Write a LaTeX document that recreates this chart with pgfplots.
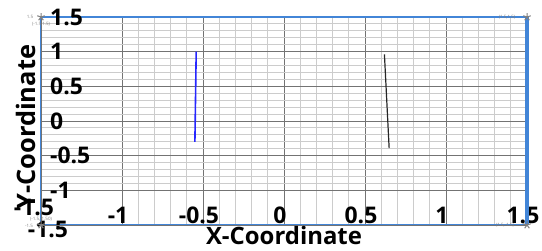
\documentclass[border=0pt]{standalone}
\usepackage{fontspec}
\setmainfont{Open Sans}
\usepackage{pgfplots}
\pgfplotsset{compat=1.18}
\usetikzlibrary{plotmarks}
\definecolor{frameblue}{RGB}{66,133,215}
\begin{document}
\begin{tikzpicture}
\begin{axis}[
  scale only axis, width=486bp, height=208bp,
  xmin=-1.5, xmax=1.5, ymin=-1.5, ymax=1.5,
  xtick={-1,-0.5,0,0.5,1,1.5}, xticklabels={-1,-0.5,0,0.5,1,1.5},
  ytick={-1,-0.5,0,0.5,1,1.5}, yticklabels={-1,-0.5,0,0.5,1,1.5},
  extra x ticks={-1.5}, extra x tick labels={-1.5},
  extra y ticks={-1.5}, extra y tick labels={-1.5},
  minor tick num=4,
  grid=both,
  major grid style={draw=black!55, line width=0.9bp},
  minor grid style={draw=black!20, line width=1.1bp},
  axis line style={draw=frameblue, line width=1.6bp},
  major tick length=0pt, minor tick length=0pt,
  ticklabel style={font=\fontsize{23}{23}\selectfont\bfseries},
  xticklabel style={anchor=base, yshift=1bp, xshift=-4bp},
  yticklabel style={anchor=west, inner xsep=9bp},
  extra x tick style={xticklabel style={anchor=center, xshift=11bp, yshift=-5bp}},
  extra y tick style={yticklabel style={anchor=center, xshift=-7bp, yshift=18bp}},
  xlabel={X-Coordinate},
  xlabel style={font=\fontsize{24}{24}\selectfont\bfseries, at={(axis description cs:0.5,0)}, anchor=base, yshift=-20bp},
  ylabel={Y-Coordinate},
  ylabel style={font=\fontsize{25.5}{25.5}\selectfont\bfseries, at={(axis description cs:0,0.47)}, anchor=base, yshift=5bp},
  clip=false,
]
\addplot[blue!85!white, line width=1.6bp] coordinates {(-0.542,1.0) (-0.55,-0.30)};
\addplot[black!85, line width=1.2bp] coordinates {(0.62,0.96) (0.649,-0.39)};
\addplot[only marks, mark=star, mark size=4bp, draw=gray, line width=1bp] coordinates {(-1.5,1.5) (1.5,1.5) (1.5,-1.5) (-1.5,-1.5)};
\draw[frameblue, line width=4bp] (rel axis cs:1,0) -- (rel axis cs:1,1);
\node[font=\fontsize{4.5}{4.5}\selectfont, text=gray] at (axis cs:-1.5,1.5) [xshift=-11bp] {1.5};
\node[font=\fontsize{4.5}{4.5}\selectfont, text=gray] at (axis cs:-1.5,1.5) [yshift=-7bp] {(-1.5,1.5)};
\node[font=\fontsize{4.5}{4.5}\selectfont, text=gray] at (axis cs:1.5,1.5) [xshift=-20bp] {(1.5,1.5)};
\node[font=\fontsize{4.5}{4.5}\selectfont, text=gray] at (axis cs:1.5,-1.5) [xshift=-22bp] {(1.5,-1.5)};
\node[font=\fontsize{4.5}{4.5}\selectfont, text=gray] at (axis cs:-1.5,-1.5) [yshift=6bp] {(-1.5,-1.50)};
\node[font=\fontsize{4.5}{4.5}\selectfont, text=gray] at (axis cs:-1.5,-1.5) [xshift=-12bp, yshift=-1bp] {-1.5};
\end{axis}
\pgfresetboundingbox
\path ([shift={(-41bp,-26bp)}]current axis.south west) rectangle ([shift={(15bp,17bp)}]current axis.north east);
\end{tikzpicture}
\end{document}
